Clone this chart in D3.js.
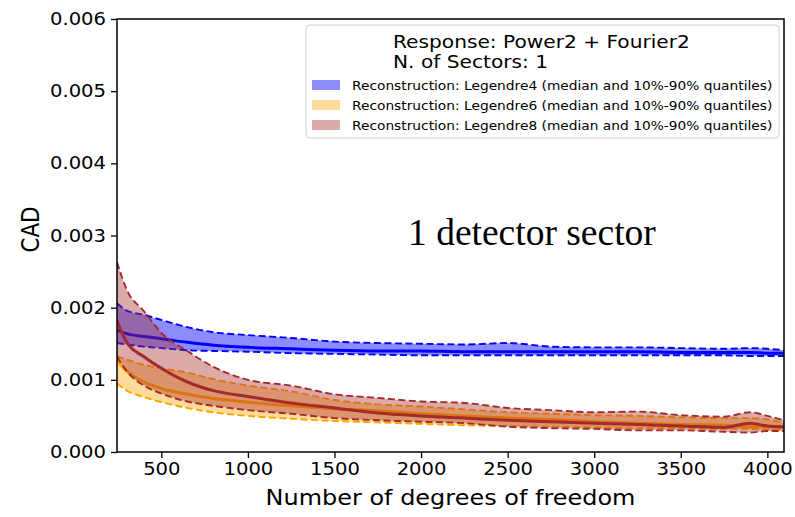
<!DOCTYPE html>
<html>
<head>
<meta charset="utf-8">
<script src="https://cdn.jsdelivr.net/npm/d3@7"></script>
<style>
  html, body { margin: 0; padding: 0; background: #fff; }
  svg { display: block; font-family: "DejaVu Sans", sans-serif; }
</style>
</head>
<body>
<div id="chart"></div>
<script>
// Degrees of freedom (shared x positions of all curves)
const dof = [244, 300, 400, 500, 650, 800, 1000, 1250, 1500, 1750, 2000, 2250, 2500, 2750, 3000, 3250, 3500, 3750, 3900, 4000, 4096];

// Legendre4: median, 10% and 90% quantiles
const leg4Median = [0.00169, 0.00164, 0.00160, 0.00157, 0.00152, 0.00148, 0.00145, 0.00143, 0.00141, 0.00140, 0.00140, 0.00139, 0.00139, 0.00139, 0.00139, 0.00139, 0.00138, 0.00138, 0.00138, 0.00137, 0.00137];
const leg4Low    = [0.00151, 0.00149, 0.00146, 0.00144, 0.00141, 0.00140, 0.00139, 0.00137, 0.00136, 0.00135, 0.00134, 0.00134, 0.00134, 0.00134, 0.00134, 0.00134, 0.00134, 0.00134, 0.00133, 0.00133, 0.00133];
const leg4High   = [0.00206, 0.00196, 0.00190, 0.00183, 0.00173, 0.00166, 0.00162, 0.00158, 0.00153, 0.00151, 0.00150, 0.00149, 0.00151, 0.00146, 0.00145, 0.00145, 0.00144, 0.00143, 0.00144, 0.00143, 0.00141];

// Legendre6
const leg6Median = [0.00127, 0.00112, 0.00097, 0.00088, 0.00080, 0.00074, 0.00069, 0.00064, 0.00060, 0.00057, 0.00053, 0.00050, 0.00047, 0.00045, 0.00042, 0.00040, 0.00038, 0.00037, 0.00035, 0.00035, 0.00034];
const leg6Low    = [0.00095, 0.00085, 0.00076, 0.00069, 0.00061, 0.00055, 0.00050, 0.00046, 0.00043, 0.00041, 0.00039, 0.00037, 0.00036, 0.00035, 0.00034, 0.00033, 0.00033, 0.00032, 0.00032, 0.00031, 0.00031];
const leg6High   = [0.00133, 0.00128, 0.00121, 0.00116, 0.00110, 0.00101, 0.00092, 0.00084, 0.00072, 0.00066, 0.00063, 0.00059, 0.00055, 0.00053, 0.00051, 0.00050, 0.00048, 0.00047, 0.00047, 0.00045, 0.00040];

// Legendre8
const leg8Median = [0.00182, 0.00152, 0.00132, 0.00116, 0.00097, 0.00085, 0.00077, 0.00068, 0.00061, 0.00054, 0.00050, 0.00047, 0.00044, 0.00042, 0.00040, 0.00038, 0.00036, 0.00034, 0.00040, 0.00036, 0.00035];
const leg8Low    = [0.00132, 0.00112, 0.00092, 0.00081, 0.00070, 0.00064, 0.00058, 0.00053, 0.00047, 0.00044, 0.00042, 0.00040, 0.00035, 0.00033, 0.00032, 0.00030, 0.00030, 0.00028, 0.00027, 0.00029, 0.00029];
const leg8High   = [0.00263, 0.00225, 0.00195, 0.00165, 0.00140, 0.00118, 0.00100, 0.00092, 0.00080, 0.00075, 0.00070, 0.00068, 0.00061, 0.00058, 0.00055, 0.00056, 0.00051, 0.00049, 0.00055, 0.00050, 0.00044];

// Ticks
const xTicks = [500, 1000, 1500, 2000, 2500, 3000, 3500, 4000];
const yTicks = [0, 0.001, 0.002, 0.003, 0.004, 0.005, 0.006];

const series = [
    { name: 'Reconstruction: Legendre4 (median and 10%-90% quantiles)', color: '#0000ff', alpha: 0.45, median: leg4Median, low: leg4Low, high: leg4High },
    { name: 'Reconstruction: Legendre6 (median and 10%-90% quantiles)', color: '#ffa500', alpha: 0.4, median: leg6Median, low: leg6Low, high: leg6High },
    { name: 'Reconstruction: Legendre8 (median and 10%-90% quantiles)', color: '#a52a2a', alpha: 0.4, median: leg8Median, low: leg8Low, high: leg8High }
];

const width = 795, height = 517;
const plot = { left: 117, right: 784, top: 19, bottom: 452 };
// the source figure is slightly stretched horizontally, so its text is too
const SX = 1.12;

const svg = d3.select('#chart').append('svg')
    .attr('width', width)
    .attr('height', height);

svg.append('rect').attr('width', width).attr('height', height).attr('fill', '#fff');

const x = d3.scaleLinear().domain([244, 4096]).range([plot.left, plot.right]);
const y = d3.scaleLinear().domain([0, 0.006]).range([plot.bottom, plot.top]);

svg.append('clipPath').attr('id', 'clip')
    .append('rect')
    .attr('x', plot.left).attr('y', plot.top)
    .attr('width', plot.right - plot.left)
    .attr('height', plot.bottom - plot.top);

const g = svg.append('g').attr('clip-path', 'url(#clip)');

// Bands and lines, drawn series by series like matplotlib does
series.forEach(s => {
    const rows = dof.map((d, i) => ({ x: d, m: s.median[i], lo: s.low[i], hi: s.high[i] }));

    const area = d3.area()
        .x(d => x(d.x))
        .y0(d => y(d.lo))
        .y1(d => y(d.hi))
        .curve(d3.curveMonotoneX);

    g.append('path')
        .datum(rows)
        .attr('d', area)
        .attr('fill', s.color)
        .attr('fill-opacity', s.alpha);

    ['lo', 'hi'].forEach(k => {
        g.append('path')
            .datum(rows)
            .attr('d', d3.line().x(d => x(d.x)).y(d => y(d[k])).curve(d3.curveMonotoneX))
            .attr('fill', 'none')
            .attr('stroke', s.color)
            .attr('stroke-width', 1.9)
            .attr('stroke-dasharray', '7,3.5');
    });

    g.append('path')
        .datum(rows)
        .attr('d', d3.line().x(d => x(d.x)).y(d => y(d.m)).curve(d3.curveMonotoneX))
        .attr('fill', 'none')
        .attr('stroke', s.color)
        .attr('stroke-width', 3);
});

// Axes
const xAxis = d3.axisBottom(x).tickValues(xTicks).tickSize(6).tickPadding(5).tickFormat(d3.format('d'));
const yAxis = d3.axisLeft(y).tickValues(yTicks).tickSize(6).tickPadding(5).tickFormat(d3.format('.3f'));

const xg = svg.append('g').attr('transform', `translate(0,${plot.bottom})`).call(xAxis);
const yg = svg.append('g').attr('transform', `translate(${plot.left},0)`).call(yAxis);

[xg, yg].forEach(a => {
    a.select('.domain').remove();
    a.selectAll('line').attr('stroke', '#000').attr('stroke-width', 1.3);
    a.selectAll('text')
        .attr('fill', '#000')
        .style('font-family', '"DejaVu Sans", sans-serif')
        .style('font-size', '17.5px');
});
xg.selectAll('.tick text').attr('transform', `scale(${SX},1)`);
yg.selectAll('.tick text').attr('x', -11 / SX).attr('transform', `scale(${SX},1)`);

// Frame
svg.append('rect')
    .attr('x', plot.left).attr('y', plot.top)
    .attr('width', plot.right - plot.left)
    .attr('height', plot.bottom - plot.top)
    .attr('fill', 'none')
    .attr('stroke', '#000')
    .attr('stroke-width', 1.5);

/**
 * Add a text at (tx, ty) stretched horizontally like the source
 */
function addText(parent, tx, ty, str, size, anchor) {
    return parent.append('text')
        .attr('transform', `translate(${tx},${ty}) scale(${SX},1)`)
        .attr('text-anchor', anchor || 'start')
        .style('font-size', size + 'px')
        .text(str);
}

// Axis labels
addText(svg, (plot.left + plot.right) / 2, 505, 'Number of degrees of freedom', 21.4, 'middle');

svg.append('text')
    .attr('transform', `translate(39,${(plot.top + plot.bottom) / 2 - 6}) rotate(-90) scale(1,${SX})`)
    .attr('text-anchor', 'middle')
    .style('font-size', '21.4px')
    .text('CAD');

// Legend
const legend = svg.append('g');
legend.append('rect')
    .attr('x', 306).attr('y', 25)
    .attr('width', 473).attr('height', 113)
    .attr('rx', 4)
    .attr('fill', '#fff').attr('fill-opacity', 0.8)
    .attr('stroke', '#d0d0d0').attr('stroke-width', 1);

addText(legend, 393, 48, 'Response: Power2 + Fourier2', 18);
addText(legend, 393, 68, 'N. of Sectors: 1', 18);

series.forEach((s, i) => {
    const yy = 90 + i * 20;
    legend.append('rect')
        .attr('x', 312).attr('y', yy - 10)
        .attr('width', 28).attr('height', 10)
        .attr('fill', s.color).attr('fill-opacity', s.alpha);
    addText(legend, 352, yy, s.name, 12.3);
});

// Annotation
svg.append('text')
    .attr('x', 408).attr('y', 245)
    .style('font-family', '"Liberation Serif", "Times New Roman", serif')
    .style('font-size', '37.5px')
    .text('1 detector sector');
</script>
</body>
</html>
